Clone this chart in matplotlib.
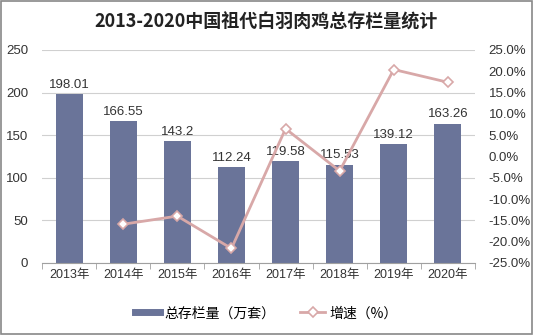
import matplotlib
matplotlib.use("Agg")
import matplotlib.pyplot as plt
from matplotlib.patches import Rectangle
from matplotlib.lines import Line2D
import numpy as np

plt.rcParams['font.family'] = ['Liberation Sans', 'Noto Sans CJK SC', 'DejaVu Sans']

years = ['2013年', '2014年', '2015年', '2016年', '2017年', '2018年', '2019年', '2020年']
stock = [198.01, 166.55, 143.2, 112.24, 119.58, 115.53, 139.12, 163.26]
stock_labels = ['198.01', '166.55', '143.2', '112.24', '119.58', '115.53', '139.12', '163.26']
growth = [None, -15.9, -14.0, -21.6, 6.5, -3.4, 20.4, 17.4]

bar_color = '#6A7499'
line_color = '#D8A8A8'

fig = plt.figure(figsize=(5.33, 3.35), dpi=100)
fig.patches.append(Rectangle((0.002, 0.003), 0.996, 0.994, transform=fig.transFigure,
                             fill=False, edgecolor='#888888', linewidth=1.2))
ax = fig.add_axes([0.079, 0.215, 0.812, 0.636])
x = np.arange(len(years))
ax.bar(x, stock, width=0.5, color=bar_color, zorder=2, label='总存栏量（万套）')
ax.set_ylim(0, 250)
ax.set_yticks(range(0, 251, 50))
ax.set_xlim(-0.5, len(years) - 0.5)
ax.grid(axis='y', color='#D0D0D0', linewidth=0.8, zorder=0)
for s in ['top', 'right', 'left']:
    ax.spines[s].set_visible(False)
ax.spines['bottom'].set_color('#A0A0A0')
ax.tick_params(axis='y', length=0, labelsize=9.5, colors='#333333', pad=10)
ax.set_xticks(x)
ax.set_xticklabels(years, fontsize=9, color='#333333')
ax.tick_params(axis='x', length=0, pad=4)
ax.set_xticks(np.arange(-0.5, len(years), 1), minor=True)
ax.tick_params(axis='x', which='minor', length=4, color='#A0A0A0')
for xi, v, lab in zip(x, stock, stock_labels):
    ax.text(xi, v + 4, lab, ha='center', va='bottom', fontsize=9.5, color='#333333')

ax2 = ax.twinx()
gx = [xi for xi, g in zip(x, growth) if g is not None]
gy = [g for g in growth if g is not None]
ax2.plot(gx, gy, color=line_color, linewidth=2, marker='D', markersize=5,
         markerfacecolor='white', markeredgecolor=line_color, markeredgewidth=1.2,
         zorder=3, label='增速（%）')
ax2.set_ylim(-25, 25)
ax2.set_yticks(range(-25, 26, 5))
ax2.set_yticklabels([f'{v:.1f}%' for v in range(-25, 26, 5)])
for s in ['top', 'right', 'left', 'bottom']:
    ax2.spines[s].set_visible(False)
ax2.tick_params(axis='y', length=0, labelsize=9.5, colors='#333333', pad=10)

fig.text(0.5, 0.935, '2013-2020中国祖代白羽肉鸡总存栏量统计', ha='center', va='center',
         fontsize=13, fontweight='bold', color='#222222',
         family=['Noto Sans CJK SC', 'DejaVu Sans'])

h2, l2 = ax2.get_legend_handles_labels()
h1 = [Line2D([0], [0], color=bar_color, linewidth=5)]
fig.legend(h1 + h2, ['总存栏量（万套）'] + l2, loc='center', bbox_to_anchor=(0.5, 0.065), ncol=2,
           frameon=False, fontsize=10, handlelength=1.8, handletextpad=0.3,
           columnspacing=1.8, prop={'family': ['Noto Sans CJK SC', 'DejaVu Sans'], 'size': 10})

fig.savefig('out.png', dpi=100)
